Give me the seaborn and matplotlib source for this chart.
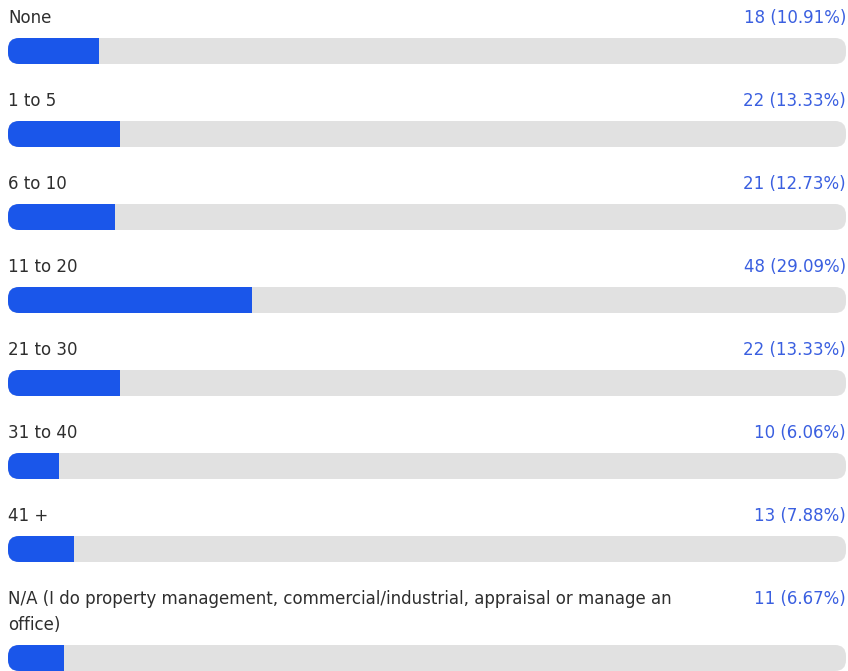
import matplotlib
matplotlib.use("Agg")
import matplotlib.pyplot as plt
import seaborn as sns
import pandas as pd
from matplotlib.patches import FancyBboxPatch

categories = ["None", "1 to 5", "6 to 10", "11 to 20", "21 to 30", "31 to 40", "41 +",
              "N/A (I do property management, commercial/industrial, appraisal or manage an\noffice)"]
counts = [18, 22, 21, 48, 22, 10, 13, 11]
percents = [10.91, 13.33, 12.73, 29.09, 13.33, 6.06, 7.88, 6.67]

sns.set_theme(style="white")
plt.rcParams['font.family'] = ['DejaVu Sans']

W, H = 848, 671
fig = plt.figure(figsize=(W / 100, H / 100), dpi=100)

BLUE = "#1a56ea"
TRACK = "#e1e1e1"
TEXT = "#2e2e2e"
VALC = "#3a5fe0"

left_px, right_px = 8, 846
bar_h = 26
r_px = 11
fs_label = 12
fs_val = 12

for i, (cat, c, p) in enumerate(zip(categories, counts, percents)):
    two_line = "\n" in cat
    label_y = 17 + 83 * i
    bar_top = 38 + 83 * i + (26 if two_line else 0)
    ax = fig.add_axes([left_px / W, 1 - (bar_top + bar_h) / H,
                       (right_px - left_px) / W, bar_h / H])
    df = pd.DataFrame({"cat": [cat], "pct": [p], "full": [100.0]})
    sns.barplot(data=df, x="full", y="cat", color=TRACK, width=1.0, ax=ax,
                saturation=1)
    sns.barplot(data=df, x="pct", y="cat", color=BLUE, width=1.0, ax=ax,
                saturation=1)
    ax.set_xlim(0, 100)
    ax.set_ylim(0.5, -0.5)
    ax.axis("off")
    track, bar = ax.patches[0], ax.patches[1]
    xu = (right_px - left_px) / 100.0  # px per x unit
    r = r_px / xu
    a = r_px / (r * bar_h)
    rounded = FancyBboxPatch((track.get_x(), track.get_y()), track.get_width(),
                             track.get_height(),
                             boxstyle=f"round,pad=0,rounding_size={r}",
                             mutation_aspect=a, facecolor=TRACK, edgecolor="none",
                             transform=ax.transData, zorder=1)
    track.set_visible(False)
    ax.add_patch(rounded)
    bar.set_zorder(2)
    bar.set_clip_path(rounded)
    bar.set_edgecolor("none")

    fig.text(left_px / W, 1 - (label_y - 8) / H, cat, ha="left",
             va="top", fontsize=fs_label, color=TEXT, linespacing=1.6)
    fig.text(right_px / W, 1 - (label_y - 8) / H, f"{c} ({p:.2f}%)", ha="right",
             va="top", fontsize=fs_val, color=VALC)

fig.savefig("out.png", dpi=100)
